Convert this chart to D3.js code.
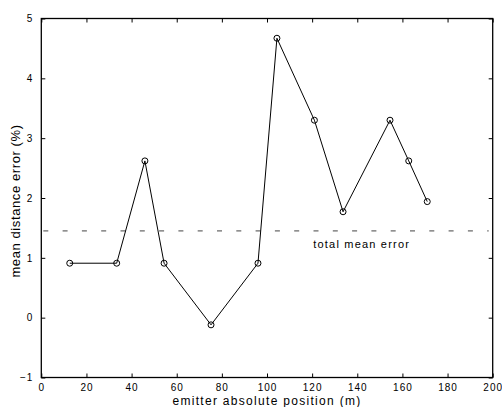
<!DOCTYPE html>
<html>
<head>
<meta charset="utf-8">
<script src="https://cdn.jsdelivr.net/npm/d3@7"></script>
<style>
  html, body { margin: 0; padding: 0; background: #fff; }
  svg { display: block; }
  text { font-family: "Liberation Sans", Arial, sans-serif; fill: #000; }
</style>
</head>
<body>
<svg id="chart" width="502" height="407"></svg>
<script>
// emitter positions (m) and mean distance error (%)
const positions = [12.6, 33.4, 45.9, 54.4, 75.2, 96.0, 104.4, 121.0, 133.7, 154.5, 162.8, 171.0];
const errors = [0.91, 0.91, 2.62, 0.91, -0.12, 0.91, 4.67, 3.30, 1.77, 3.30, 2.62, 1.94];
const totalMeanError = 1.45;
const xTicks = [0, 20, 40, 60, 80, 100, 120, 140, 160, 180, 200];
const yTicks = [-1, 0, 1, 2, 3, 4, 5];

const width = 502, height = 407;
const margin = { top: 18.5, right: 9.3, bottom: 29.5, left: 41.3 };
const innerW = width - margin.left - margin.right;
const innerH = height - margin.top - margin.bottom;

const svg = d3.select('#chart');
const g = svg.append('g').attr('transform', `translate(${margin.left},${margin.top})`);

const x = d3.scaleLinear().domain([0, 200]).range([0, innerW]);
const y = d3.scaleLinear().domain([-1, 5]).range([innerH, 0]);

const tickLen = 4;

// inward ticks on all four sides
const styleAxis = sel => {
  sel.select('.domain').remove();
  sel.selectAll('line').attr('stroke', '#000').attr('stroke-width', 1);
  sel.selectAll('text').style('font-size', '10px').style('letter-spacing', '1px');
};

g.append('g').attr('transform', `translate(0,${innerH})`)
  .call(d3.axisBottom(x).tickValues(xTicks).tickSize(-tickLen).tickPadding(6).tickFormat(d3.format('d')))
  .call(styleAxis);
g.append('g')
  .call(d3.axisTop(x).tickValues(xTicks).tickSize(-tickLen).tickFormat(''))
  .call(styleAxis);
g.append('g')
  .call(d3.axisLeft(y).tickValues(yTicks).tickSize(-tickLen).tickPadding(8).tickFormat(d3.format('d')))
  .call(styleAxis);
g.append('g').attr('transform', `translate(${innerW},0)`)
  .call(d3.axisRight(y).tickValues(yTicks).tickSize(-tickLen).tickFormat(''))
  .call(styleAxis);

// box
g.append('rect')
  .attr('width', innerW).attr('height', innerH)
  .attr('fill', 'none').attr('stroke', '#000').attr('stroke-width', 1.3);

// total mean error dashed line
g.append('line')
  .attr('x1', 2).attr('x2', innerW - 4)
  .attr('y1', y(totalMeanError)).attr('y2', y(totalMeanError))
  .attr('stroke', '#444').attr('stroke-width', 1)
  .attr('stroke-dasharray', '5,14.3');

g.append('text')
  .attr('x', x(120.5)).attr('y', y(totalMeanError) + 17)
  .style('font-size', '11px').style('letter-spacing', '1.2px')
  .text('total mean error');

const pts = positions.map((p, i) => ({ p, e: errors[i] }));

g.append('path')
  .datum(pts)
  .attr('fill', 'none').attr('stroke', '#000').attr('stroke-width', 1)
  .attr('d', d3.line().x(d => x(d.p)).y(d => y(d.e)));

g.selectAll('circle.pt').data(pts).join('circle')
  .attr('class', 'pt')
  .attr('cx', d => x(d.p)).attr('cy', d => y(d.e)).attr('r', 3)
  .attr('fill', 'none').attr('stroke', '#000').attr('stroke-width', 1);

// axis labels
svg.append('text')
  .attr('x', 267).attr('y', 404.5)
  .attr('text-anchor', 'middle')
  .style('font-size', '12px').style('letter-spacing', '1.3px')
  .text('emitter absolute position (m)');

svg.append('text')
  .attr('transform', `translate(20,${margin.top + y(1.95)}) rotate(-90)`)
  .attr('text-anchor', 'middle')
  .style('font-size', '13px').style('letter-spacing', '0.6px')
  .text('mean distance error (%)');
</script>
</body>
</html>
